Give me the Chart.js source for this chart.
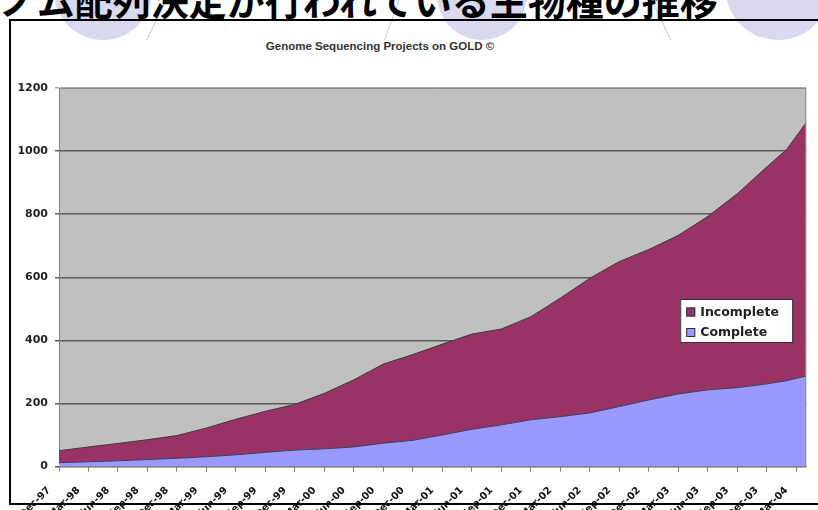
<!DOCTYPE html>
<html>
<head>
<meta charset="utf-8">
<script src="https://cdn.jsdelivr.net/npm/chart.js@4.4.0/dist/chart.umd.min.js"></script>
<style>
  html, body { margin: 0; padding: 0; background: #fff; }
  body { width: 818px; height: 510px; position: relative; overflow: hidden; }
  .blob { position: absolute; border-radius: 50%; background: #d9d9f0; }
  .deco-line { position: absolute; height: 1px; background: #cacae6; transform-origin: 0 0; }
  .heading { position: absolute; left: -38px; top: -20px; font: bold 38px/1 "Noto Sans CJK JP"; color: #000; white-space: nowrap; }
  .frame { position: absolute; left: 9px; top: 19px; width: 820px; height: 482px; border: 2px solid #000; border-right: none; }
  .chart-title { position: absolute; left: 0; width: 760px; top: 40px; text-align: center; font: bold 11.5px "Liberation Sans"; color: #333; }
  #gold { position: absolute; left: 0; top: 0; }
</style>
</head>
<body>
<div class="blob" style="left:54px; top:-58px; width:98px; height:98px;"></div>
<div class="blob" style="left:437px; top:-50px; width:90px; height:90px;"></div>
<div class="blob" style="left:726px; top:-60px; width:104px; height:100px;"></div>
<div class="deco-line" style="left:146px; top:40px; width:44px; transform:rotate(-64deg);"></div>
<div class="deco-line" style="left:384px; top:40px; width:44px; transform:rotate(-70deg);"></div>
<div class="deco-line" style="left:652px; top:0px; width:44px; transform:rotate(64deg);"></div>
<div class="frame"></div>
<div class="heading">ゲノム配列決定が行われている生物種の推移</div>
<div class="chart-title">Genome Sequencing Projects on GOLD ©</div>
<canvas id="gold" width="818" height="510"></canvas>
<script>
// quarter labels on the date axis (every 3 months from Dec-97)
const tickLabels = ['Dec-97', 'Mar-98', 'Jun-98', 'Sep-98', 'Dec-98', 'Mar-99', 'Jun-99', 'Sep-99', 'Dec-99',
    'Mar-00', 'Jun-00', 'Sep-00', 'Dec-00', 'Mar-01', 'Jun-01', 'Sep-01', 'Dec-01', 'Mar-02', 'Jun-02',
    'Sep-02', 'Dec-02', 'Mar-03', 'Jun-03', 'Sep-03', 'Dec-03', 'Mar-04'];

// months since Dec-97 for each data point
const months = [0, 3, 6, 9, 12, 15, 18, 21, 24, 27, 30, 33, 36, 39, 42, 45, 48, 51, 54, 57, 60, 63, 66, 69, 72, 74, 76];

const complete = [12, 15, 18, 22, 26, 31, 37, 45, 52, 56, 62, 74, 83, 100, 118, 132, 148, 158, 170, 190, 211, 230, 243, 250, 262, 272, 287];
const incomplete = [38, 47, 55, 63, 72, 91, 113, 130, 145, 176, 213, 251, 272, 288, 302, 304, 327, 376, 427, 460, 477, 503, 550, 615, 688, 733, 803];

const toPoints = (values) => months.map((m, i) => ({ x: m, y: values[i] }));

const plotBackground = {
    id: 'plotBackground',
    beforeDraw(chart) {
        const { ctx, chartArea: a } = chart;
        ctx.save();
        ctx.fillStyle = '#c0c0c0';
        ctx.fillRect(a.left, a.top, a.width, a.height);
        ctx.restore();
    },
    afterDatasetsDraw(chart) {
        const { ctx, chartArea: a } = chart;
        ctx.save();
        ctx.strokeStyle = '#8c8c8c';
        ctx.lineWidth = 1;
        ctx.beginPath();
        ctx.moveTo(a.left, a.top + 0.5);
        ctx.lineTo(a.right - 0.5, a.top + 0.5);
        ctx.lineTo(a.right - 0.5, a.bottom);
        ctx.stroke();
        ctx.restore();
    }
};

// legend box sitting inside the plot, incomplete on top
const insideLegend = {
    id: 'insideLegend',
    afterDraw(chart) {
        const { ctx, chartArea } = chart;
        const x = chartArea.right - 126;
        const y = chartArea.top + 211;
        ctx.save();
        ctx.fillStyle = '#fff';
        ctx.fillRect(x, y, 112, 43);
        ctx.strokeStyle = '#333';
        ctx.lineWidth = 1;
        ctx.strokeRect(x + 0.5, y + 0.5, 112, 43);
        ctx.font = 'bold 12.5px "DejaVu Sans"';
        ctx.textBaseline = 'middle';
        chart.data.datasets.slice().reverse().forEach((ds, i) => {
            const rowY = y + 13 + i * 20.5;
            ctx.fillStyle = ds.backgroundColor;
            ctx.fillRect(x + 6, rowY - 4.5, 9, 9);
            ctx.strokeStyle = '#333';
            ctx.strokeRect(x + 6.5, rowY - 4, 8, 8);
            ctx.fillStyle = '#222';
            ctx.fillText(ds.label, x + 20, rowY + 0.5);
        });
        ctx.restore();
    }
};

new Chart('gold', {
    type: 'line',
    data: {
        datasets: [{
            label: 'Complete',
            data: toPoints(complete),
            backgroundColor: '#9999ff',
            borderColor: '#3c3c5a',
            borderWidth: 1,
            fill: 'origin'
        }, {
            label: 'Incomplete',
            data: toPoints(incomplete),
            backgroundColor: '#993366',
            borderColor: '#3a3a3a',
            borderWidth: 1,
            fill: '-1'
        }]
    },
    options: {
        responsive: false,
        animation: false,
        layout: { padding: { top: 88, right: 9, bottom: 0, left: 0 } },
        elements: { point: { radius: 0 }, line: { tension: 0 } },
        plugins: {
            legend: { display: false },
            title: { display: false },
            tooltip: { enabled: false }
        },
        scales: {
            x: {
                type: 'linear',
                min: 0,
                max: 76,
                afterFit: (s) => { s.height = 43.5; },
                afterBuildTicks: (s) => { s.ticks = tickLabels.map((_, i) => ({ value: i * 3 })); },
                grid: { drawOnChartArea: false, drawTicks: true, tickLength: 5, color: '#808080' },
                border: { color: '#808080', width: 1 },
                ticks: {
                    autoSkip: false,
                    minRotation: 45,
                    maxRotation: 45,
                    padding: 13,
                    labelOffset: -10,
                    color: '#111',
                    font: { family: 'DejaVu Sans', weight: 'bold', size: 10 },
                    callback: (v) => tickLabels[v / 3]
                }
            },
            y: {
                stacked: true,
                min: 0,
                max: 1200,
                afterFit: (s) => { s.width = 59; },
                grid: {
                    color: (c) => c.tick && c.tick.value === 1200 ? '#a8a8a8' : '#5a5a5a',
                    lineWidth: 1.5,
                    tickLength: 4
                },
                border: { color: '#808080', width: 1 },
                ticks: {
                    stepSize: 200,
                    padding: 7,
                    color: '#222',
                    font: { family: 'DejaVu Sans', weight: 'bold', size: 11 },
                    callback: (v) => String(v)
                }
            }
        }
    },
    plugins: [plotBackground, insideLegend]
});
</script>
</body>
</html>
